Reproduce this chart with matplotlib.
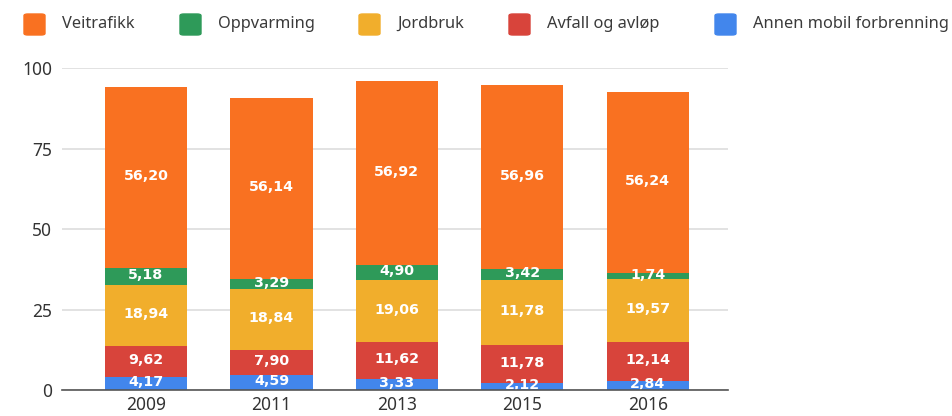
import matplotlib
matplotlib.use('Agg')
import matplotlib.pyplot as plt
from matplotlib.patches import FancyBboxPatch
import numpy as np

years = ["2009", "2011", "2013", "2015", "2016"]

# stacked bottom -> top
series = ["Annen mobil forbrenning", "Avfall og avløp", "Jordbruk", "Oppvarming", "Veitrafikk"]
colors = ["#4286EC", "#D8443B", "#F1AE2C", "#2E9A59", "#F97121"]

annen = [4.17, 4.59, 3.33, 2.12, 2.84]
avfall = [9.62, 7.90, 11.62, 11.78, 12.14]
jordbruk = [18.94, 18.84, 19.06, 20.40, 19.57]
oppvarming = [5.18, 3.29, 4.90, 3.42, 1.74]
veitrafikk = [56.20, 56.14, 56.92, 56.96, 56.24]
values = [annen, avfall, jordbruk, oppvarming, veitrafikk]

# labels as printed in the chart (2015 Jordbruk is printed as 11,78)
labels = [
    ["4,17", "4,59", "3,33", "2,12", "2,84"],
    ["9,62", "7,90", "11,62", "11,78", "12,14"],
    ["18,94", "18,84", "19,06", "11,78", "19,57"],
    ["5,18", "3,29", "4,90", "3,42", "1,74"],
    ["56,20", "56,14", "56,92", "56,96", "56,24"],
]

plt.rcParams['font.family'] = ['Noto Sans', 'DejaVu Sans']

fig = plt.figure(figsize=(9.53, 4.16), dpi=100)
ax = fig.add_axes([0.065, 0.0625, 0.699, 0.774])

x = np.arange(len(years))
bottom = np.zeros(len(years))
for vals, col, labs in zip(values, colors, labels):
    vals = np.array(vals)
    ax.bar(x, vals, 0.655, bottom=bottom, color=col, zorder=2)
    for xi, b, v, t in zip(x, bottom, vals, labs):
        ax.text(xi, b + v / 2 + 0.4, t, ha='center', va='center', color='white',
                fontsize=10.3, fontweight='bold', family='DejaVu Sans', zorder=3)
    bottom += vals

ax.set_xlim(-0.67, 4.64)
ax.set_ylim(0, 100)
ax.set_yticks([0, 25, 50, 75, 100])
ax.set_xticks(x)
ax.set_xticklabels(years)
ax.grid(axis='y', color='#dddddd', linewidth=1.2, zorder=0)
ax.tick_params(length=0, labelsize=12.5, colors='#333333')
ax.tick_params(axis='y', pad=7)
ax.tick_params(axis='x', pad=4)
for s in ['top', 'right', 'left']:
    ax.spines[s].set_visible(False)
ax.spines['bottom'].set_color('#555555')
ax.spines['bottom'].set_linewidth(1.2)
ax.spines['bottom'].set_zorder(4)

# legend across the top (order as in the reference)
leg_order = [4, 3, 2, 1, 0]
leg_x = [24, 180, 359, 509, 715]
W, H = 953, 416
for i, px in zip(leg_order, leg_x):
    fig.patches.append(FancyBboxPatch((px / W, 1 - 35 / H), 21 / W, 21 / H,
                                      boxstyle="round,pad=0,rounding_size=0.004",
                                      transform=fig.transFigure, color=colors[i]))
    fig.text((px + 38) / W, 1 - 24 / H, series[i], va='center', ha='left',
             fontsize=11.8, color='#3a3a3a')

fig.savefig("out.png", dpi=100, facecolor='white')
